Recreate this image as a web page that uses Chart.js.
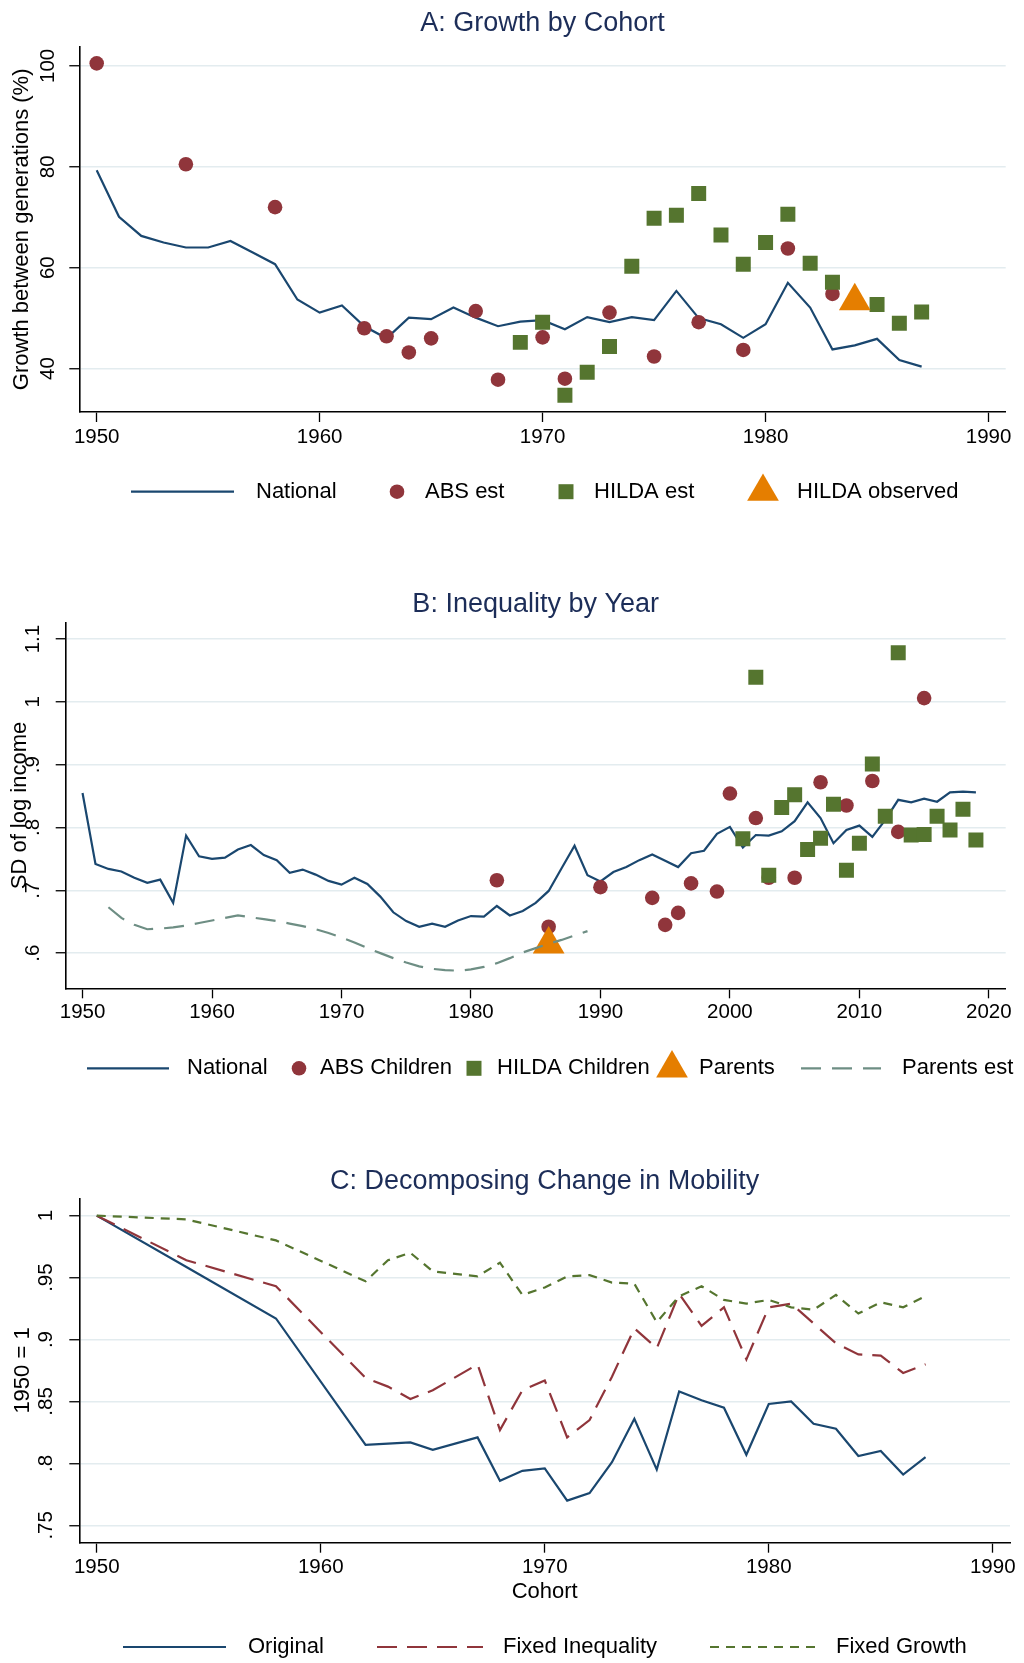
<!DOCTYPE html>
<html>
<head>
<meta charset="utf-8">
<script src="https://cdn.jsdelivr.net/npm/chart.js@4.4.0/dist/chart.umd.min.js"></script>
<style>
  body { margin: 0; background: #fff; width: 1024px; height: 1663px; position: relative; overflow: hidden; }
  canvas { position: absolute; left: 0; }
</style>
</head>
<body>
<canvas id="chart-a" width="1024" height="545" style="top:0px"></canvas>
<canvas id="chart-b" width="1024" height="545" style="top:560px"></canvas>
<canvas id="chart-c" width="1024" height="523" style="top:1140px"></canvas>
<script>
// ---- Panel A: growth by cohort ----
const cohortYears = [1950,1951,1952,1953,1954,1955,1956,1957,1958,1959,
                     1960,1961,1962,1963,1964,1965,1966,1967,1968,1969,
                     1970,1971,1972,1973,1974,1975,1976,1977,1978,1979,
                     1980,1981,1982,1983,1984,1985,1986,1987];
const nationalGrowth = [79.3,70.1,66.3,65.0,64.0,64.0,65.3,63.0,60.7,53.7,
                        51.1,52.5,48.4,46.0,50.1,49.8,52.1,50.1,48.4,49.3,
                        49.6,47.8,50.2,49.2,50.2,49.6,55.4,50.0,48.8,46.1,
                        48.8,57.0,52.1,43.8,44.6,45.9,41.7,40.4];
const absYears = [1950,1954,1958,1962,1963,1964,1965,1967,1968,1970,1971,1973,1975,1977,1979,1981,1983];
const absGrowth = [100.5,80.5,72.0,48.0,46.4,43.2,46.0,51.4,37.8,46.2,38.0,51.1,42.4,49.2,43.7,63.8,54.8];
const hildaYears = [1969,1970,1971,1972,1973,1974,1975,1976,1977,1978,1979,1980,1981,1982,1983,1985,1986,1987];
const hildaGrowth = [45.2,49.2,34.7,39.3,44.4,60.3,69.8,70.4,74.7,66.5,60.7,65.0,70.6,60.9,57.1,52.7,49.0,51.2];
const observedYears = [1984];
const observedGrowth = [53.4];
const growthTicks = [40, 60, 80, 100];
const cohortTicks = [1950, 1960, 1970, 1980, 1990];

// ---- Panel B: inequality by year ----
const incomeYears = [1950,1951,1952,1953,1954,1955,1956,1957,1958,1959,
                     1960,1961,1962,1963,1964,1965,1966,1967,1968,1969,
                     1970,1971,1972,1973,1974,1975,1976,1977,1978,1979,
                     1980,1981,1982,1983,1984,1985,1986,1987,1988,1989,
                     1990,1991,1992,1993,1994,1995,1996,1997,1998,1999,
                     2000,2001,2002,2003,2004,2005,2006,2007,2008,2009,
                     2010,2011,2012,2013,2014,2015,2016,2017,2018,2019];
const nationalSD = [0.855,0.742,0.734,0.730,0.720,0.712,0.717,0.680,0.787,0.754,
                    0.750,0.752,0.765,0.772,0.756,0.748,0.728,0.733,0.725,0.715,
                    0.709,0.720,0.710,0.690,0.665,0.651,0.642,0.647,0.642,0.652,
                    0.659,0.658,0.675,0.660,0.667,0.680,0.699,0.735,0.771,0.724,
                    0.714,0.729,0.737,0.748,0.757,0.747,0.737,0.759,0.763,0.790,
                    0.801,0.768,0.788,0.787,0.794,0.810,0.840,0.815,0.775,0.796,
                    0.803,0.785,0.812,0.844,0.840,0.846,0.841,0.856,0.857,0.856];
const absChildYears = [1982,1986,1990,1994,1995,1996,1997,1999,2000,2002,2003,2005,2007,2009,2011,2013,2015];
const absChildSD = [0.716,0.642,0.705,0.688,0.645,0.664,0.711,0.698,0.854,0.815,0.720,0.720,0.872,0.835,0.874,0.793,1.006];
const hildaChildYears = [2001,2002,2003,2004,2005,2006,2007,2008,2009,2010,2011,2012,2013,2014,2015,2016,2017,2018,2019];
const hildaChildSD = [0.782,1.039,0.724,0.832,0.852,0.765,0.783,0.837,0.732,0.775,0.901,0.818,1.078,0.788,0.789,0.818,0.796,0.829,0.780];
const parentsYears = [1986];
const parentsSD = [0.614];
const parentsEstYears = [1952,1953,1954,1955,1956,1957,1958,1959,1960,1961,
                         1962,1963,1964,1965,1966,1967,1968,1969,1970,1971,
                         1972,1973,1974,1975,1976,1977,1978,1979,1980,1981,
                         1982,1983,1984,1985,1986,1987,1988,1989];
const parentsEstSD = [0.673,0.656,0.645,0.638,0.639,0.641,0.644,0.648,0.652,0.656,
                      0.660,0.657,0.654,0.651,0.647,0.643,0.638,0.632,0.625,0.617,
                      0.608,0.600,0.592,0.585,0.579,0.575,0.573,0.572,0.574,0.578,
                      0.584,0.592,0.601,0.608,0.615,0.621,0.628,0.635];
const sdTicks = [0.6, 0.7, 0.8, 0.9, 1, 1.1];
const sdTickLabels = ['.6', '.7', '.8', '.9', '1', '1.1'];
const yearTicks = [1950, 1960, 1970, 1980, 1990, 2000, 2010, 2020];

// ---- Panel C: decomposing change in mobility ----
const decompYears = [1950,1954,1958,1962,1963,1964,1965,1967,1968,1969,
                     1970,1971,1972,1973,1974,1975,1976,1977,1978,1979,
                     1980,1981,1982,1983,1984,1985,1986,1987];
const original = [1.000,0.9585,0.917,0.815,0.816,0.817,0.811,0.821,0.786,0.794,
                  0.796,0.770,0.776,0.801,0.836,0.795,0.858,0.851,0.845,0.807,
                  0.848,0.850,0.832,0.828,0.806,0.810,0.791,0.805];
const fixedInequality = [1.000,0.964,0.943,0.869,0.862,0.852,0.859,0.880,0.827,0.859,
                         0.867,0.821,0.835,0.870,0.909,0.893,0.937,0.911,0.926,0.884,
                         0.926,0.929,0.913,0.897,0.888,0.887,0.873,0.880];
const fixedGrowth = [1.000,0.997,0.980,0.947,0.964,0.970,0.955,0.951,0.962,0.936,
                     0.942,0.951,0.952,0.946,0.945,0.914,0.935,0.943,0.932,0.929,
                     0.932,0.926,0.924,0.936,0.921,0.930,0.926,0.935];
const indexTicks = [0.75, 0.8, 0.85, 0.9, 0.95, 1];
const indexTickLabels = ['.75', '.8', '.85', '.9', '.95', '1'];

// colours (Stata s2color-ish)
const navy = '#1a476f';
const maroon = '#90353b';
const forest = '#55752f';
const orange = '#e57e00';
const teal = '#6e8e84';
const gridCol = '#e3ecef';
const titleCol = '#1c2d58';
const FONT = "'Liberation Sans', Arial, Helvetica, sans-serif";

Chart.defaults.font.family = FONT;
Chart.defaults.color = '#000';

function pts(xs, ys) {
  return xs.map((x, i) => ({ x: x, y: ys[i] }));
}

function lineSet(label, xs, ys, color, dash) {
  return { label: label, data: pts(xs, ys), showLine: true, borderColor: color,
           borderWidth: 2.2, borderDash: dash || [], pointRadius: 0, pointHoverRadius: 0, tension: 0 };
}

function markerSet(label, xs, ys, color, style, radius) {
  return { label: label, data: pts(xs, ys), showLine: false, pointStyle: style,
           pointRadius: radius, pointHoverRadius: radius, pointBackgroundColor: color,
           pointBorderWidth: 0, borderColor: color, backgroundColor: color };
}

// legend drawn the Stata way: one row under the plot, fixed slots
const stataLegend = {
  id: 'stataLegend',
  afterDraw(chart, args, opts) {
    const ctx = chart.ctx;
    ctx.save();
    ctx.font = '22px ' + FONT;
    ctx.textBaseline = 'middle';
    chart.data.datasets.forEach((ds, i) => {
      const slot = opts.items[i];
      if (ds.showLine) {
        ctx.strokeStyle = ds.borderColor;
        ctx.lineWidth = ds.borderWidth;
        ctx.setLineDash(ds.borderDash);
        ctx.beginPath();
        ctx.moveTo(slot.x0, opts.y);
        ctx.lineTo(slot.x1, opts.y);
        ctx.stroke();
        ctx.setLineDash([]);
      } else {
        ctx.fillStyle = ds.pointBackgroundColor;
        Chart.helpers.drawPoint(ctx, { pointStyle: ds.pointStyle, radius: ds.pointRadius,
                                       rotation: 0, borderWidth: 0 }, slot.x0, opts.y);
      }
      ctx.fillStyle = '#000';
      ctx.fillText(ds.label, slot.tx, opts.y);
    });
    ctx.restore();
  }
};

function makeChart(id, p) {
  // later series are drawn on top, like Stata
  p.datasets.forEach((ds, i) => { ds.order = p.datasets.length - i; });
  return new Chart(document.getElementById(id), {
    type: 'scatter',
    data: { datasets: p.datasets },
    plugins: [stataLegend],
    options: {
      responsive: false,
      animation: false,
      events: [],
      layout: { padding: { left: 0, right: 14, top: 0, bottom: p.padBottom } },
      plugins: {
        legend: { display: false },
        tooltip: { enabled: false },
        title: {
          display: true, text: p.title, color: titleCol, fullSize: false,
          font: { size: 27, weight: 'normal', lineHeight: 1.2 },
          padding: { top: p.titleTop, bottom: p.titleBottom }
        },
        stataLegend: { y: p.legendY, items: p.legendSlots }
      },
      scales: {
        x: {
          type: 'linear', min: p.xMin, max: p.xMax,
          afterBuildTicks: s => { s.ticks = p.xTicks.map(v => ({ value: v })); },
          afterFit: s => { s.height = p.xHeight; },
          ticks: { autoSkip: false, maxRotation: 0, padding: p.xTickPad,
                   font: { size: 20.5 }, callback: v => String(v) },
          grid: { drawOnChartArea: false, tickLength: 10, tickColor: '#000', tickWidth: 1.3 },
          border: { display: true, color: '#000', width: 1.6 },
          title: p.xTitle
            ? { display: true, text: p.xTitle, font: { size: 22 }, padding: { top: 0, bottom: p.xTitlePad } }
            : { display: false }
        },
        y: {
          type: 'linear', min: p.yMin, max: p.yMax,
          afterBuildTicks: s => { s.ticks = p.yTicks.map(v => ({ value: v })); },
          afterFit: s => { s.width = p.yWidth; },
          ticks: { autoSkip: false, minRotation: 90, maxRotation: 90, crossAlign: 'center',
                   padding: p.yTickPad, font: { size: 20.5 },
                   callback: v => p.yLabels[p.yTicks.indexOf(v)] },
          grid: { color: gridCol, lineWidth: 1.5, tickLength: 10, tickColor: '#000', tickWidth: 1.3 },
          border: { display: true, color: '#000', width: 1.6 },
          title: { display: true, text: p.yTitle, font: { size: 22 }, padding: { top: p.yTitlePad, bottom: 0 } }
        }
      }
    }
  });
}

makeChart('chart-a', {
  title: 'A: Growth by Cohort',
  datasets: [
    lineSet('National', cohortYears, nationalGrowth, navy),
    markerSet('ABS est', absYears, absGrowth, maroon, 'circle', 7.3),
    markerSet('HILDA est', hildaYears, hildaGrowth, forest, 'rect', 10.6),
    markerSet('HILDA observed', observedYears, observedGrowth, orange, 'triangle', 18.3)
  ],
  titleTop: 7.3, titleBottom: 7,
  padBottom: 83, xHeight: 50, xTickPad: 3,
  xMin: 1949.22, xMax: 1990.77, xTicks: cohortTicks,
  yMin: 31.4, yMax: 103.8, yTicks: growthTicks, yLabels: growthTicks.map(String),
  yWidth: 79.3, yTickPad: 4, yTitle: 'Growth between generations (%)', yTitlePad: 8.5,
  legendY: 491.7,
  legendSlots: [{ x0: 131, x1: 234, tx: 256 }, { x0: 397, tx: 425 }, { x0: 566, tx: 594 }, { x0: 763, tx: 797 }]
});

makeChart('chart-b', {
  title: 'B: Inequality by Year',
  datasets: [
    lineSet('National', incomeYears, nationalSD, navy),
    markerSet('ABS Children', absChildYears, absChildSD, maroon, 'circle', 7.3),
    markerSet('HILDA Children', hildaChildYears, hildaChildSD, forest, 'rect', 10.6),
    markerSet('Parents', parentsYears, parentsSD, orange, 'triangle', 18.3),
    lineSet('Parents est', parentsEstYears, parentsEstSD, teal, [20, 11])
  ],
  titleTop: 28.3, titleBottom: 2,
  padBottom: 66.7, xHeight: 50, xTickPad: 2,
  xMin: 1948.7, xMax: 2021.3, xTicks: yearTicks,
  yMin: 0.544, yMax: 1.126, yTicks: sdTicks, yLabels: sdTickLabels,
  yWidth: 65.7, yTickPad: 8, yTitle: 'SD of log income', yTitlePad: 6.3,
  legendY: 508.3,
  legendSlots: [{ x0: 87, x1: 169, tx: 187 }, { x0: 299, tx: 320 }, { x0: 474, tx: 497 },
                { x0: 672, tx: 699 }, { x0: 801, x1: 881, tx: 902 }]
});

makeChart('chart-c', {
  title: 'C: Decomposing Change in Mobility',
  datasets: [
    lineSet('Original', decompYears, original, navy),
    lineSet('Fixed Inequality', decompYears, fixedInequality, maroon, [20, 10]),
    lineSet('Fixed Growth', decompYears, fixedGrowth, forest, [9, 7])
  ],
  titleTop: 25.6, titleBottom: 0.3,
  padBottom: 40.3, xHeight: 80, xTickPad: 2, xTitle: 'Cohort', xTitlePad: 17.5,
  xMin: 1949.22, xMax: 1990.77, xTicks: cohortTicks,
  yMin: 0.736, yMax: 1.014, yTicks: indexTicks, yLabels: indexTickLabels,
  yWidth: 79.3, yTickPad: 8.5, yTitle: '1950 = 1', yTitlePad: 9.8,
  legendY: 507,
  legendSlots: [{ x0: 123, x1: 226, tx: 248 }, { x0: 377, x1: 483, tx: 503 }, { x0: 710, x1: 815, tx: 836 }]
});
</script>
</body>
</html>
